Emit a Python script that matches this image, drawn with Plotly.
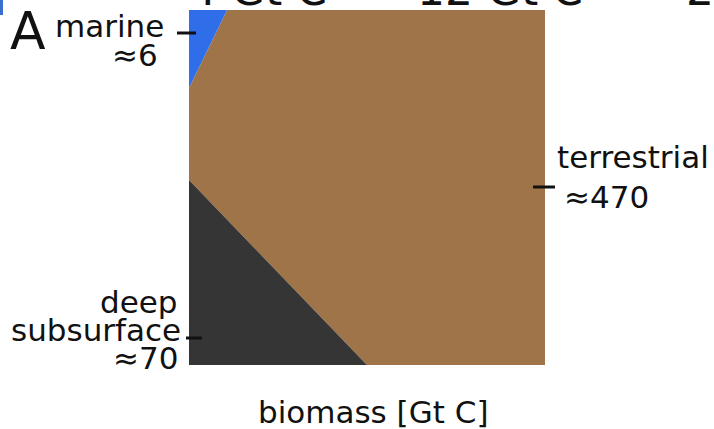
import plotly.graph_objects as go

# ---- data (polygon vertices in a 0..100 unit square; area ~ biomass share) ----
categories = ["marine", "terrestrial", "deep subsurface"]
values_label = ["≈6", "≈470", "≈70"]
marine_x = [0, 10.7, 0]
marine_y = [100, 100, 78.0]
deep_x = [0, 0, 50.0]
deep_y = [0, 52.1, 0]
terr_x = [10.7, 100, 100, 50.0, 0, 0]
terr_y = [100, 100, 0, 0, 52.1, 78.0]
colors = {"marine": "#2f6ee8", "terrestrial": "#9f7449", "deep subsurface": "#353535"}
top_labels = ["4 Gt C", "12 Gt C", "2"]

W, H = 714, 429
L, R, T, B = 189, 169, 10, 64
pw, ph = W - L - R, H - T - B


def px_x(x):
    return (x - L) / pw


def px_y(y):
    return (H - B - y) / ph


fig = go.Figure()
for name, xs, ys in [("terrestrial", terr_x, terr_y),
                     ("marine", marine_x, marine_y),
                     ("deep subsurface", deep_x, deep_y)]:
    fig.add_trace(go.Scatter(x=xs + [xs[0]], y=ys + [ys[0]], fill="toself",
                             fillcolor=colors[name], mode="lines",
                             line=dict(width=0, color=colors[name]),
                             hoverinfo="skip", showlegend=False, name=name))

font = "DejaVu Sans"
fs = 31
ann = []


def add(text, xpx, ypx, xanchor, size=fs):
    ann.append(dict(text=text, x=px_x(xpx), y=px_y(ypx), xref="paper", yref="paper",
                    xanchor=xanchor, yanchor="middle", showarrow=False,
                    font=dict(family=font, size=size, color="#111111")))


add("A", 28, 31, "center", 52)
add("marine", 166, 26, "right")
add("≈6", 160, 55, "right")
add("terrestrial", 555, 157, "left")
add("≈470", 562, 197, "left")
add("deep", 180, 302, "right")
add("subsurface", 183, 330, "right")
add("≈70", 180, 358, "right")
add("biomass [Gt C]", 373, 412, "center")
add(top_labels[0], 258, -11, "center", 44)
add(top_labels[1], 500, -11, "center", 44)
add(top_labels[2], 700, -11, "center", 44)

shapes = []
for (x0, x1, y) in [(177, 196, 33), (186, 202, 338), (533, 555, 187)]:
    shapes.append(dict(type="line", xref="paper", yref="paper", x0=px_x(x0), x1=px_x(x1),
                       y0=px_y(y), y1=px_y(y), line=dict(color="#111111", width=3)))
shapes.append(dict(type="rect", xref="paper", yref="paper", x0=px_x(0),
                   x1=px_x(3), y0=px_y(15), y1=px_y(-2),
                   fillcolor="#3a6fd0", line=dict(width=0)))

fig.update_layout(
    width=W, height=H, margin=dict(l=L, r=R, t=T, b=B),
    paper_bgcolor="white", plot_bgcolor="white",
    xaxis=dict(range=[0, 100], visible=False, fixedrange=True),
    yaxis=dict(range=[0, 100], visible=False, fixedrange=True),
    annotations=ann, shapes=shapes,
)
fig.write_html("out.html")
